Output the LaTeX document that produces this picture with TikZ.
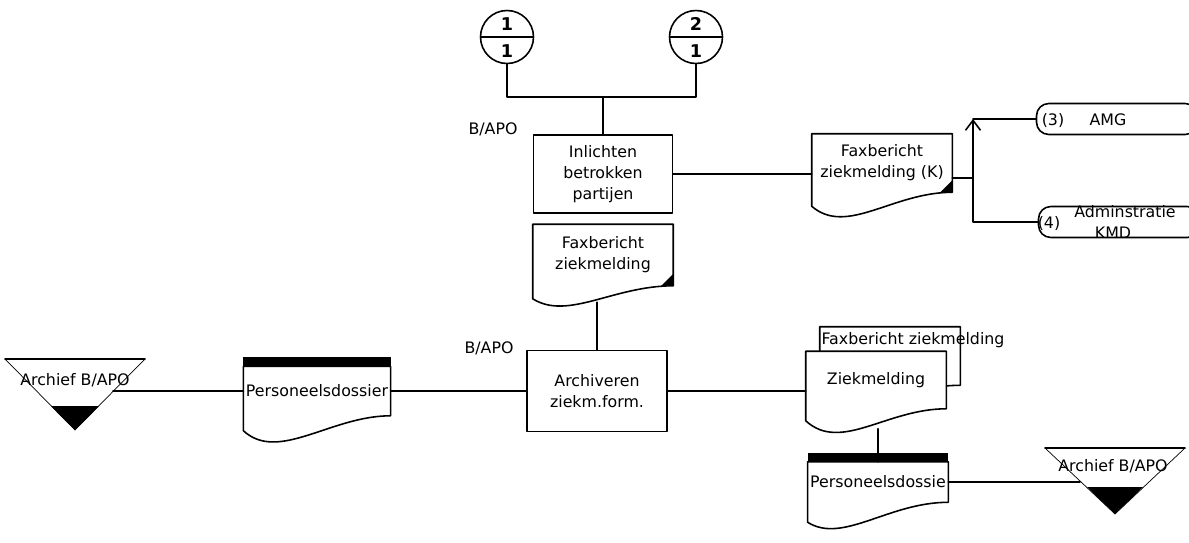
\documentclass[tikz,border=0pt]{standalone}
\usepackage{fontspec}
\setmainfont{DejaVu Sans}
\usetikzlibrary{shapes.multipart,calc,arrows.meta}

\begin{document}
\begin{tikzpicture}[x=0.02cm, y=-0.02cm, line cap=round, line join=round, line width=0.9pt,
    every node/.style={font=\fontsize{9}{12}\selectfont},
    proc/.style={draw, rectangle, minimum width=2.8cm, minimum height=1.62cm, align=center, inner sep=2pt},
    doc/.style={rectangle, minimum width=2.78cm, align=center, inner sep=1pt},
    conn/.style={circle split, draw, minimum size=1.06cm, inner sep=1pt, font=\fontsize{10}{12}\selectfont\bfseries},
    term/.style={draw, rectangle, rounded corners=7pt, minimum width=3.22cm, minimum height=0.62cm},
    lbl/.style={inner sep=1pt}]
  \useasboundingbox (0,0) rectangle (1189,542);

  % verbindingen boven
  \node[conn] (c1) at (507,37) {1\rule[-2.5pt]{0pt}{2.5pt} \nodepart{lower} \rule{0pt}{10pt}1};
  \node[conn] (c2) at (696,37) {2\rule[-2.5pt]{0pt}{2.5pt} \nodepart{lower} \rule{0pt}{10pt}1};
  \node[lbl] (who1) at (493,129) {B/APO};
  \node[proc, minimum width=2.78cm, minimum height=1.56cm] (inl) at (603,174) {Inlichten\\betrokken\\partijen};
  \coordinate (cj) at ($(inl.north)+(0,-37)$);
  \draw (c1.south) |- (cj) -| (c2.south);
  \draw (cj) -- (inl.north);

  % faxbericht naar AMG en KMD
  \node[doc, minimum height=1.14cm] (faxk) at (882,163) {Faxbericht\\ziekmelding (K)};
  \node[term] (amg) at (1117,119) {};
  \node[lbl] (amg3) at (1053,121) {(3)};
  \node[lbl] (amgt) at (1108,120) {AMG};
  \node[term] (kmd) at (1119,222) {};
  \node[lbl] (kmd4) at (1049,224) {(4)};
  \node[lbl] (kmdt1) at (1125,212) {Adminstratie};
  \node[lbl] (kmdt2) at (1113,233) {KMD};
  \coordinate (split) at (973,178);
  \draw (inl.east) -- (inl.east -| faxk.west);
  \draw (split -| faxk.east) -- (split);
  \draw[-{Straight Barb[length=2mm,width=3mm]}] (split) -- (split |- amg.west);
  \draw (split |- amg.west) -- (amg.west);
  \draw (split) |- (kmd.west);

  % archiveren
  \node[doc, minimum height=1.2cm] (faxm) at (603,255) {Faxbericht\\ziekmelding};
  \node[lbl] (who2) at (489,348) {B/APO};
  \node[proc] (arch) at (597,391) {Archiveren\\ziekm.form.};
  \node[doc, minimum height=0.96cm] (persl) at (317,391) {Personeelsdossier};

  % dubbel document
  \node[doc, minimum height=1.14cm] (faxz) at (890,356) {};
  \draw (faxz.north west) -- ($(faxz.south west)+(0,12)$) .. controls ($(faxz.south west)+(35,37)$) and ($(faxz.south east)+(-60,0)$) .. (faxz.south east) -- (faxz.north east) -- cycle;
  \node[doc, fill=white, minimum height=1.12cm] (ziek) at (876,380) {Ziekmelding};
  \node[lbl] (faxzt) at (913,340) {Faxbericht ziekmelding};
  \node[doc, minimum height=0.78cm] (persr) at (878,482) {Personeelsdossie};

  \foreach \d/\l/\w in {faxk/14/30, faxm/13/22, persl/15/32, ziek/12/32, persr/20/22}
    \draw (\d.north west) -- ($(\d.south west)+(0,\l)$) .. controls ($(\d.south west)+(35,\l+\w)$) and ($(\d.south east)+(-60,0)$) .. coordinate[pos=.45] (\d-w) (\d.south east) -- (\d.north east) -- cycle;
  \foreach \d in {faxk, faxm}
    \fill (\d.south east) -- ++(-12,0) -- ++(12,-12) -- cycle;
  \foreach \d in {persl, persr}
    \fill (\d.north west) rectangle ($(\d.north east)+(0,-9)$);

  % archieven
  \node[lbl] (archl) at (75,380) {Archief B/APO};
  \draw (5,359) -- (145,359);
  \draw[line width=0.4pt] (5,359) -- (75,430) -- (145,359);
  \fill (51,406) -- (99,406) -- (75,430) -- cycle;
  \coordinate (archl-e) at (113,391);
  \node[lbl] (archr) at (1113,466) {Archief B/APO};
  \draw (1045,448) -- (1185,448);
  \draw[line width=0.4pt] (1045,448) -- (1115,514) -- (1185,448);
  \fill (1087,487) -- (1143,487) -- (1115,514) -- cycle;
  \coordinate (archr-e) at (1080,482);

  \draw (arch.north) -- (arch.north |- faxm-w);
  \draw (persr.north) -- (persr.north |- ziek-w);
  \draw (persl.west) -- (archl-e);
  \draw (persl.east) -- (arch.west);
  \draw (arch.east) -- (arch.east -| ziek.west);
  \draw (persr.east) -- (archr-e);
\end{tikzpicture}
\end{document}
